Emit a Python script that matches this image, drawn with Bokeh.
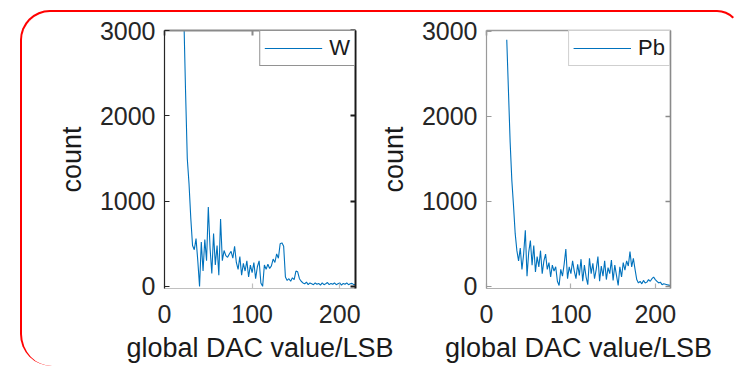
from bokeh.plotting import figure
from bokeh.layouts import row
from bokeh.models import Range1d, FixedTicker, LinearAxis, Legend
from bokeh.embed import file_html
from bokeh.resources import INLINE

# ---------------- data ----------------
x_ticks = [0, 100, 200]
y_ticks = [0, 1000, 2000, 3000]
x_label = "global DAC value/LSB"
y_label = "count"

w_dac = list(range(20, 219, 2))
w_count = [
    5000, 3200, 2300, 1500, 1200, 800, 480, 430, 560, 300,
    0, 520, 180, 550, 300, 930, 450, 150, 620, 250,
    480, 130, 790, 300, 420, 360, 340, 380, 410, 330,
    470, 280, 200, 350, 130, 270, 180, 300, 110, 250,
    160, 280, 90, 230, 300, 40, 0, 250, 200, 260,
    210, 240, 320, 280, 380, 330, 500, 510, 470, 110,
    70, 90, 60, 100, 80, 180, 170, 90, 60, 40,
    30, 50, 20, 40, 30, 20, 40, 25, 35, 15,
    40, 20, 30, 45, 20, 35, 25, 40, 20, 30,
    40, 15, 35, 25, 40, 20, 30, 35, 20, 25,
]

pb_dac = list(range(24, 219, 2))
pb_count = [
    2900, 2300, 1700, 1250, 950, 620, 420, 300, 450, 200,
    380, 660, 120, 400, 540, 250, 480, 170, 350, 230,
    420, 150, 300, 380, 200, 280, 110, 250, 180, 230,
    60, 10, 200, 120, 260, 440, 90, 230, 150, 300,
    180, 90, 260, 130, 320, 60, 250, 110, 20, 330,
    150, 270, 90, 200, 350, 60, 240, 120, 300, 80,
    220, 150, 310, 70, 250, 130, 10, 230, 110, 280,
    190, 300, 240, 410, 230, 330, 200, 80, 40, 60,
    30, 70, 40, 50, 80, 60, 90, 110, 80, 60,
    40, 50, 20, 30, 25, 20, 15, 10,
]

FONT = "Liberation Sans"
LINE = "#0072BD"


def style_axis(ax, color, width, labels=True):
    ax.axis_line_color = color
    ax.axis_line_width = width
    ax.major_tick_line_color = color
    ax.major_tick_line_width = width
    ax.major_tick_in = 5
    ax.major_tick_out = 0
    ax.minor_tick_line_color = None
    if not labels:
        ax.major_label_text_color = None
        ax.major_label_text_font_size = "1px"
        ax.major_label_standoff = 0


def make_plot(xs, ys, name, width, ml, mr, mt, mb, y_end, axis_colors, legend_border):
    p = figure(
        width=width, height=354,
        x_range=Range1d(0, 218), y_range=Range1d(-25, y_end),
        output_backend="svg", toolbar_location=None,
        min_border_left=ml, min_border_right=mr,
        min_border_top=mt, min_border_bottom=mb,
    )
    p.border_fill_color = None
    p.background_fill_color = "white"
    p.outline_line_color = None
    p.grid.visible = False

    r = p.line(xs, ys, line_color=LINE, line_width=1.1)

    left, bottom, top_c, right_c = axis_colors
    for ax, ticks, col in ((p.xaxis[0], x_ticks, bottom), (p.yaxis[0], y_ticks, left)):
        ax.ticker = FixedTicker(ticks=ticks)
        style_axis(ax, col[0], col[1])
        ax.major_label_text_font = FONT
        ax.major_label_text_font_size = "25px"
        ax.major_label_text_color = "#262626"
        ax.axis_label_text_font = FONT
        ax.axis_label_text_font_size = "27px"
        ax.axis_label_text_font_style = "normal"
        ax.axis_label_text_color = "#1a1a1a"
    p.xaxis.axis_label = x_label
    p.yaxis.axis_label = y_label
    p.yaxis.major_label_standoff = 9
    p.yaxis.axis_label_standoff = 10
    p.xaxis.major_label_standoff = 16
    p.xaxis.axis_label_standoff = 7

    rax = LinearAxis(ticker=FixedTicker(ticks=y_ticks))
    style_axis(rax, right_c[0], right_c[1], labels=False)
    p.add_layout(rax, "right")
    tax = LinearAxis(ticker=FixedTicker(ticks=x_ticks))
    style_axis(tax, top_c[0], top_c[1], labels=False)
    p.add_layout(tax, "above")

    leg = Legend(
        items=[(name, [r])], location="top_right", margin=0, padding=4,
        spacing=0, glyph_width=58, glyph_height=22, label_height=24,
        label_standoff=7, label_text_font=FONT, label_text_font_size="22px",
        label_text_color="#1a1a1a",
        border_line_color=legend_border[0], border_line_width=legend_border[1],
        background_fill_color="white", background_fill_alpha=1,
    )
    p.add_layout(leg)
    return p


p1 = make_plot(w_dac, w_count, "W", 378, 142, 45, 18, 77, 3000,
               (("#262626", 1.2), ("#c0c0c0", 1.2), ("#8a8a8a", 2), ("#1a1a1a", 2)),
               ("#262626", 1.8))
p2 = make_plot(pb_dac, pb_count, "Pb", 364, 102, 69, 16, 78, 3010,
               (("#9a9a9a", 1.2), ("#b0b0b0", 1.2), ("#9a9a9a", 1.6), ("#8a8a8a", 1.6)),
               ("#a0a0a0", 1.6))
p2.styles = {"margin-left": "-25px"}

layout = row(p1, p2, styles={
    "border": "2px solid red",
    "border-right-color": "transparent",
    "border-bottom-width": "0px",
    "border-radius": "30px 24px 0 32px",
    "margin-left": "20px",
    "margin-top": "10px",
    "background-color": "white",
})

open("out.html", "w").write(file_html(layout, INLINE))
